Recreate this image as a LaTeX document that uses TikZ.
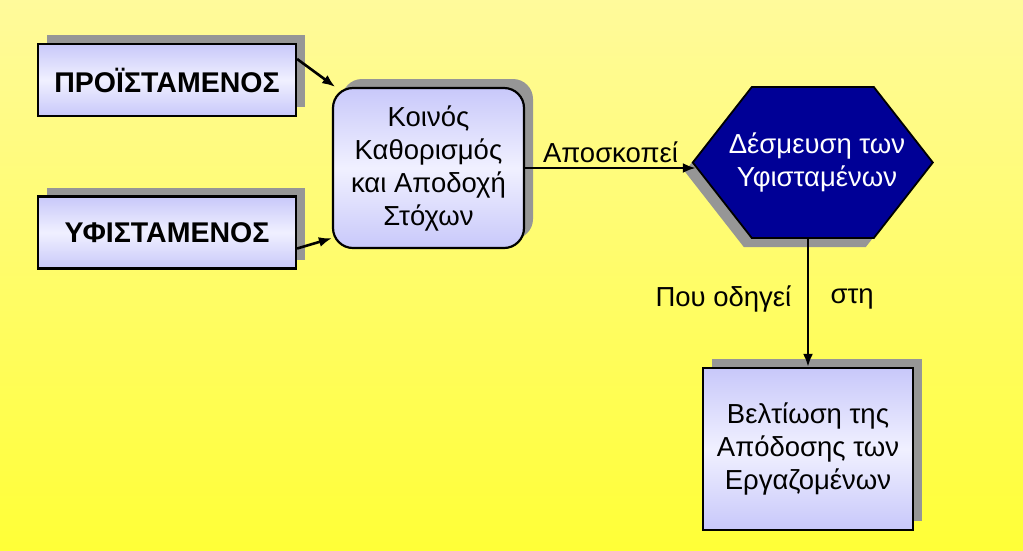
\documentclass[tikz,border=0pt]{standalone}
\usepackage{fontspec}
\setmainfont{Liberation Sans}
\usetikzlibrary{arrows.meta,positioning,shadows,calc}
\definecolor{bgtop}{RGB}{255,250,155}
\definecolor{bgbottom}{RGB}{255,255,55}
\definecolor{boxedge}{RGB}{200,200,250}
\definecolor{boxmid}{RGB}{240,240,255}
\definecolor{shadowgray}{RGB}{150,150,150}
\definecolor{navy}{RGB}{0,0,150}
\begin{document}
\begin{tikzpicture}[x=1pt,y=-1pt,
    box/.style={draw=black, line width=2.2pt, top color=boxedge, bottom color=boxedge,
      middle color=boxmid, inner sep=0pt, align=center,
      drop shadow={shadow xshift=9pt, shadow yshift=9pt, fill=shadowgray, opacity=1}},
    rolebox/.style={box, minimum width=258pt, minimum height=72pt,
      font=\fontsize{28.5}{32}\selectfont\bfseries},
    txt/.style={font=\fontsize{27.5}{33}\selectfont},
    link/.style={line width=2.6pt, -{Latex[length=13pt,width=10pt]}}]
    \useasboundingbox (0,0) rectangle (1023,550);
    \fill[bottom color=bgbottom, top color=bgtop] (0,0) rectangle (1023,550);

    \node[rolebox] (boss) at (167,80) {ΠΡΟΪΣΤΑΜΕΝΟΣ};
    \node[rolebox] (staff) at (167,232.5) {ΥΦΙΣΤΑΜΕΝΟΣ};
    \node[box, txt, rounded corners=20pt, minimum width=191pt, minimum height=160pt]
      (goal) at (428.5,168) {Κοινός\\Καθορισμός\\και Αποδοχή\\Στόχων};
    % hexagon drawn round its frame node
    \node[minimum width=240pt, minimum height=151pt, inner sep=0pt]
      (commit) at (813,162.5) {};
    \fill[shadowgray] ([shift={(-8,9)}]commit.west) -- ++(59,-75.5) -- ++(122,0)
      -- ++(59,75.5) -- ++(-59,75.5) -- ++(-122,0) -- cycle;
    \filldraw[navy, draw=black, line width=1.8pt] (commit.west) -- ++(59,-75.5) -- ++(122,0)
      -- ++(59,75.5) -- ++(-59,75.5) -- ++(-122,0) -- cycle;
    \node[txt, text=white, align=center] (committext) at ([xshift=4pt]commit.center)
      {Δέσμευση των\\Υφισταμένων};
    \node[box, txt, minimum width=210pt, minimum height=162pt]
      (result) at (808,449) {Βελτίωση της\\Απόδοσης των\\Εργαζομένων};

    \draw[link] ([yshift=21pt]boss.east) -- (goal.139);
    \draw[link] ([yshift=-16pt]staff.east) -- (goal.216);
    \draw[link] (goal.east) -- ([xshift=3pt]goal.east -| commit.west)
      node[midway, above=1pt, txt] (aim) {Αποσκοπεί};
    \draw[link] (commit.south -| result.north) -- (result.north)
      node[pos=0.47, left=12pt, txt] (leads) {Που οδηγεί}
      node[pos=0.47, right=18pt, txt] (to) {στη};
\end{tikzpicture}
\end{document}
